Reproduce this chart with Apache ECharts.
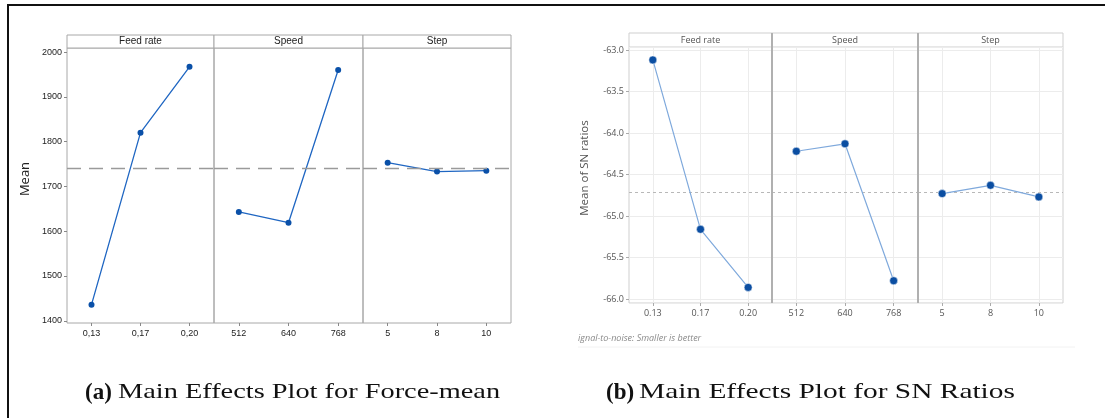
<!DOCTYPE html>
<html>
<head>
<meta charset="utf-8">
<script src="https://cdn.jsdelivr.net/npm/echarts@6/dist/echarts.min.js"></script>
<style>
  html, body { margin: 0; padding: 0; background: #fff; }
  #main { width: 1105px; height: 418px; }
</style>
</head>
<body>
<div id="main"></div>
<script>
// factor levels
const feedLevels = ['0,13', '0,17', '0,20']
const speedLevels = ['512', '640', '768']
const stepLevels = ['5', '8', '10']
const snFeedLevels = ['0.13', '0.17', '0.20']
const panelNames = ['Feed rate', 'Speed', 'Step']

// (a) force mean
const meanFeed = [1436, 1820, 1967]
const meanSpeed = [1643, 1619, 1960]
const meanStep = [1753, 1733, 1735]
const meanOverall = 1740

// (b) SN ratios
const snFeed = [-63.12, -65.16, -65.86]
const snSpeed = [-64.22, -64.13, -65.78]
const snStep = [-64.73, -64.63, -64.77]
const snOverall = -64.71

const chart = echarts.init(document.getElementById('main'))

// panel boxes (x edges)
const leftEdges = [67, 214, 363, 511]
const rightEdges = [629, 772, 918, 1063]
const leftTop = 48, leftBottom = 323
const rightTop = 47, rightBottom = 303

const grids = []
const xAxes = []
const yAxes = []
const series = []
const graphics = []

const fontA = '"Liberation Sans Narrow", "Liberation Sans", Arial, sans-serif'
const fontB = '"Open Sans", "Noto Sans", sans-serif'
const serif = '"Liberation Serif", "Times New Roman", serif'

// ---- left chart ----
const leftCats = [feedLevels, speedLevels, stepLevels]
const leftData = [meanFeed, meanSpeed, meanStep]
for (let i = 0; i < 3; i++) {
  grids.push({
    left: leftEdges[i], width: leftEdges[i + 1] - leftEdges[i],
    top: leftTop, height: leftBottom - leftTop,
    show: true, borderColor: '#a8a8a8', borderWidth: 1, backgroundColor: 'transparent',
  })
  xAxes.push({
    type: 'category', gridIndex: i, data: leftCats[i],
    axisLine: { show: false },
    axisTick: { show: true, alignWithLabel: true, length: 3, lineStyle: { color: '#888' } },
    axisLabel: { fontSize: 9, color: '#222', margin: 6, fontFamily: fontA },
    splitLine: { show: false },
  })
  yAxes.push({
    type: 'value', gridIndex: i, min: 1395, max: 2009, splitNumber: 6,
    axisLine: { show: false },
    axisTick: { show: i === 0, length: 3, lineStyle: { color: '#888' } },
    axisLabel: { show: i === 0, fontSize: 9, color: '#222', margin: 5, fontFamily: fontA,
      showMinLabel: false, showMaxLabel: false,
      formatter: (v) => String(v) },
    splitLine: { show: false },
  })
  series.push({
    type: 'line', xAxisIndex: i, yAxisIndex: i, data: leftData[i],
    symbol: 'circle', symbolSize: 6,
    itemStyle: { color: '#0a50a8' },
    lineStyle: { color: '#1f66c2', width: 1.3 },
    markLine: {
      silent: true, symbol: 'none', label: { show: false },
      lineStyle: { color: '#9a9a9a', type: [14, 8], width: 1.3 },
      data: [{ yAxis: meanOverall }],
    },
  })
  graphics.push({
    type: 'rect',
    shape: { x: leftEdges[i], y: 35, width: leftEdges[i + 1] - leftEdges[i], height: 13 },
    style: { fill: '#fff', stroke: '#a8a8a8', lineWidth: 1 },
  })
  graphics.push({
    type: 'text', x: (leftEdges[i] + leftEdges[i + 1]) / 2, y: 41.5,
    style: { text: panelNames[i], fill: '#222', font: '10px ' + fontA, textAlign: 'center', textVerticalAlign: 'middle' },
  })
}
graphics.push({
  type: 'text', x: 25, y: 179, rotation: Math.PI / 2,
  style: { text: 'Mean', fill: '#222', font: '13px ' + fontB, textAlign: 'center', textVerticalAlign: 'middle' },
})

// ---- right chart ----
const rightCats = [snFeedLevels, speedLevels, stepLevels]
const rightData = [snFeed, snSpeed, snStep]
for (let i = 0; i < 3; i++) {
  const gi = i + 3
  grids.push({
    left: rightEdges[i], width: rightEdges[i + 1] - rightEdges[i],
    top: rightTop, height: rightBottom - rightTop,
    show: true, borderColor: '#cfcfcf', borderWidth: 1, backgroundColor: 'transparent',
  })
  xAxes.push({
    type: 'category', gridIndex: gi, data: rightCats[i],
    axisLine: { show: false },
    axisTick: { show: true, alignWithLabel: true, length: 3, lineStyle: { color: '#aaa' } },
    axisLabel: { fontSize: 9, color: '#555', margin: 6, fontFamily: fontB },
    splitLine: { show: false },
  })
  yAxes.push({
    type: 'value', gridIndex: gi, min: -66.048, max: -62.964, splitNumber: 6,
    axisLine: { show: false },
    axisTick: { show: i === 0, length: 3, lineStyle: { color: '#aaa' } },
    axisLabel: { show: i === 0, fontSize: 9, color: '#555', margin: 5, fontFamily: fontB,
      showMinLabel: false, showMaxLabel: false,
      formatter: (v) => v.toFixed(1) },
    splitLine: { show: true, lineStyle: { color: '#ececec', width: 1 } },
  })
  series.push({
    type: 'line', xAxisIndex: gi, yAxisIndex: gi, data: rightData[i],
    symbol: 'circle', symbolSize: 8,
    itemStyle: { color: '#0b4ea2', borderColor: '#fff', borderWidth: 0.5 },
    lineStyle: { color: '#7fa9dc', width: 1.2 },
    markLine: {
      silent: true, symbol: 'none', label: { show: false }, z: 1,
      data: [
        { xAxis: 0, lineStyle: { color: '#ececec', type: 'solid', width: 1 } },
        { xAxis: 1, lineStyle: { color: '#ececec', type: 'solid', width: 1 } },
        { xAxis: 2, lineStyle: { color: '#ececec', type: 'solid', width: 1 } },
        { yAxis: snOverall, lineStyle: { color: '#b8b8b8', type: [3, 3], width: 1 } },
      ],
    },
  })
  graphics.push({
    type: 'rect',
    shape: { x: rightEdges[i], y: 33, width: rightEdges[i + 1] - rightEdges[i], height: 14 },
    style: { fill: '#fff', stroke: '#cfcfcf', lineWidth: 1 },
  })
  graphics.push({
    type: 'text', x: (rightEdges[i] + rightEdges[i + 1]) / 2, y: 40,
    style: { text: panelNames[i], fill: '#555', font: '9px ' + fontB, textAlign: 'center', textVerticalAlign: 'middle' },
  })
}
graphics.push({
  type: 'text', x: 585, y: 168, rotation: Math.PI / 2,
  style: { text: 'Mean of SN ratios', fill: '#555', font: '11.5px ' + fontB, textAlign: 'center', textVerticalAlign: 'middle' },
})
// thicker dividers between right panels
for (const x of [rightEdges[1], rightEdges[2]]) {
  graphics.push({
    type: 'line', shape: { x1: x, y1: 33, x2: x, y2: rightBottom },
    style: { stroke: '#b0b0b0', lineWidth: 2 }, z: 10,
  })
}

// footnote
graphics.push({
  type: 'text', x: 578, y: 338,
  style: { text: 'ignal-to-noise: Smaller is better', fill: '#8a8a8a', font: 'italic 9px ' + fontB, textVerticalAlign: 'middle' },
})
graphics.push({
  type: 'line', shape: { x1: 578, y1: 347, x2: 1075, y2: 347 },
  style: { stroke: '#f2f2f2', lineWidth: 1 },
})

// outer frame (top and left)
graphics.push({
  type: 'polyline', shape: { points: [[8, 418], [8, 5], [1105, 5]] },
  style: { stroke: '#111', lineWidth: 2, fill: null },
})

// captions (text in the source image is stretched sideways)
const captions = [
  { tag: '(a)', text: 'Main Effects Plot for Force-mean', x: 85, sx: 1.35 },
  { tag: '(b)', text: 'Main Effects Plot for SN Ratios', x: 606, sx: 1.4 },
]
for (const c of captions) {
  graphics.push({
    type: 'text', x: c.x, y: 393,
    style: { text: c.tag, font: 'bold 23px ' + serif, fill: '#111', textVerticalAlign: 'middle' },
  })
  graphics.push({
    type: 'text', x: c.x + 33, y: 392, scaleX: c.sx,
    style: { text: c.text, font: '21px ' + serif, fill: '#111', textVerticalAlign: 'middle' },
  })
}

const option = {
  backgroundColor: '#fff',
  animation: false,
  grid: grids,
  xAxis: xAxes,
  yAxis: yAxes,
  series: series,
  graphic: graphics,
}
option && chart.setOption(option)
</script>
</body>
</html>
